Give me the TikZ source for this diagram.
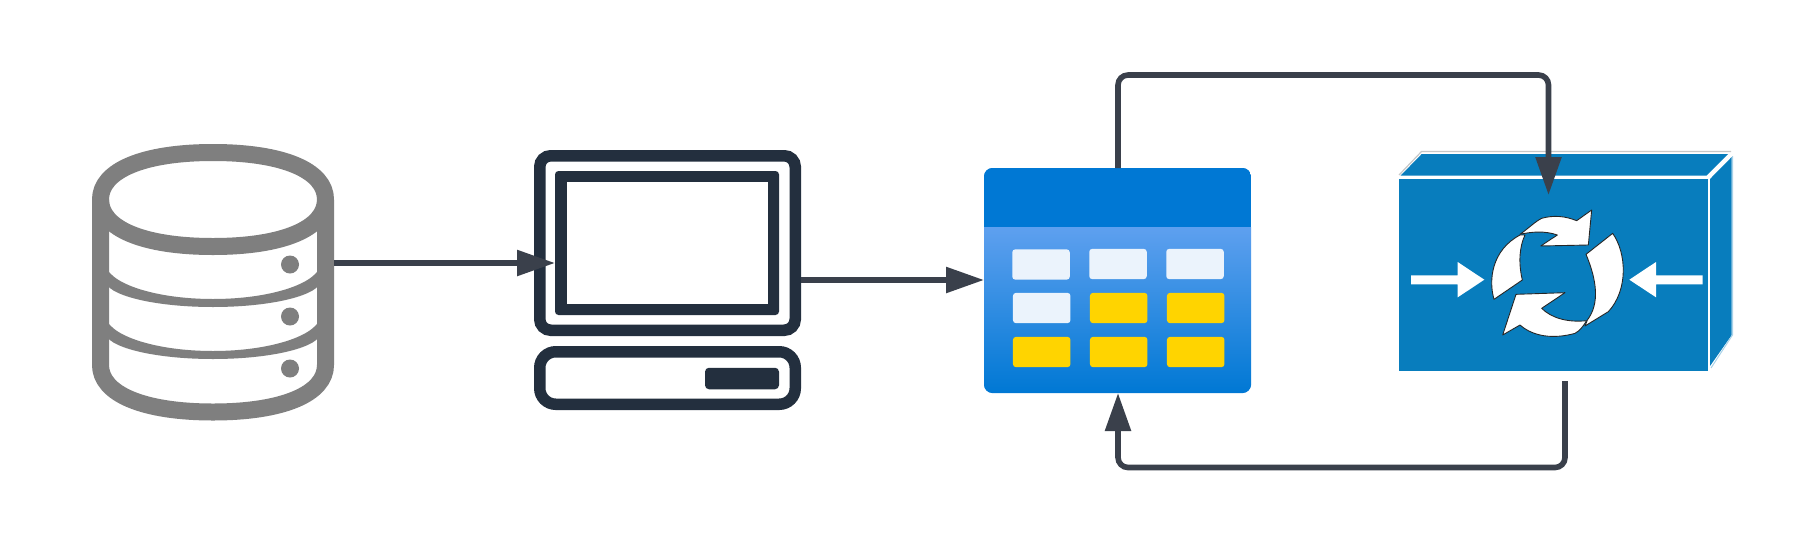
\documentclass[tikz,border=0pt]{standalone}
\usetikzlibrary{arrows.meta}
\definecolor{dbgrey}{HTML}{7F7F7F}
\definecolor{pcnavy}{HTML}{232F3E}
\definecolor{linkc}{HTML}{3A404B}
\definecolor{azdark}{HTML}{0078D4}
\definecolor{azlight}{HTML}{5EA0EF}
\definecolor{cellw}{HTML}{EBF3FC}
\definecolor{celly}{HTML}{FFD400}
\definecolor{cubeb}{HTML}{087DBD}
\tikzset{
  link/.style={draw=linkc,line width=5.6pt,rounded corners=10pt,-{Triangle[length=38pt,width=25pt,color=linkc]}},
  band/.style={fill=dbgrey},
  dbline/.style={draw=dbgrey,line width=17pt,line join=round},
  dot/.style={circle,fill=dbgrey,minimum size=18pt,inner sep=0pt},
  cell/.style={rectangle,rounded corners=3pt,minimum width=57.5pt,minimum height=30.3pt,inner sep=0pt},
  cellwhite/.style={cell,fill=cellw},
  cellyellow/.style={cell,fill=celly},
  cyc/.style={fill=white,draw=black!85,line width=0.9pt,line join=round},
  whitearrow/.style={fill=white},
  hull/.style={rectangle,inner sep=0pt,anchor=center}
}
\begin{document}
\begin{tikzpicture}[x=1pt,y=-1pt]
\useasboundingbox (0,0) rectangle (1809,544);
\fill[white] (0,0) rectangle (1809,544);

% database
\node[hull,minimum width=242pt,minimum height=276pt] (db) at (213,282) {};
\draw[dbline] (100.5,199.5) .. controls (100.5,170.5) and (143.25,152.5) .. (213,152.5)
   .. controls (282.75,152.5) and (325.5,170.5) .. (325.5,199.5)
   .. controls (325.5,228.5) and (282.75,246.5) .. (213,246.5)
   .. controls (143.25,246.5) and (100.5,228.5) .. (100.5,199.5) -- cycle;
\draw[dbline] (100.5,199.5) -- (100.5,365) .. controls (100.5,394) and (143.25,412) .. (213,412)
   .. controls (282.75,412) and (325.5,394) .. (325.5,365) -- (325.5,199.5);
\foreach \dy in {0,52}{
  \fill[band] (105,262+\dy) arc[start angle=180,end angle=360,x radius=108pt,y radius=37pt]
     -- (321,280+\dy) arc[start angle=360,end angle=180,x radius=108pt,y radius=27pt] -- cycle;
}
\node[dot] (dot1) at (290,264.5) {};
\node[dot] (dot2) at (290,316.5) {};
\node[dot] (dot3) at (290,368.5) {};

% computer
\node[hull,draw=pcnavy,line width=11.5pt,rounded corners=11pt,minimum width=255.5pt,minimum height=174.5pt] (pc) at (667.5,243) {};
\node[hull,fill=pcnavy,rounded corners=3.5pt,minimum width=224pt,minimum height=144pt] (screen) at (667,243) {};
\node[hull,fill=white,minimum width=201pt,minimum height=122pt] (glass) at (667.5,243) {};
\node[hull,draw=pcnavy,line width=11.5pt,rounded corners=16pt,minimum width=255.5pt,minimum height=52.5pt] (base) at (667.5,378) {};
\node[hull,fill=pcnavy,rounded corners=4pt,minimum width=74pt,minimum height=21.5pt] (btn) at (742,378.5) {};

% storage table
\node[hull,minimum width=267pt,minimum height=225pt] (table) at (1117.5,280.5) {};
\begin{scope}
  \clip[rounded corners=9pt] (table.north west) rectangle (table.south east);
  \shade[top color=azlight,bottom color=azdark] (984,227) rectangle (1251,393);
  \fill[azdark] (984,168) rectangle (1251,227);
\end{scope}
\node[cellwhite] (c11) at (1041,264.5) {};
\node[cellwhite] (c12) at (1118,264) {};
\node[cellwhite] (c13) at (1195,264) {};
\node[cellwhite] (c21) at (1041.7,308) {};
\node[cellyellow] (c22) at (1118.7,308) {};
\node[cellyellow] (c23) at (1195.7,308) {};
\node[cellyellow] (c31) at (1041.7,352) {};
\node[cellyellow] (c32) at (1118.7,352) {};
\node[cellyellow] (c33) at (1195.7,352) {};

% cube
\node[hull,fill=cubeb,minimum width=308.7pt,minimum height=191.7pt] (cube) at (1553.4,275.2) {};
\fill[cubeb] (1400.7,175.5) -- (1421.7,154) -- (1728,154) -- (1706.7,175.5) -- cycle;
\fill[cubeb] (1710,179) -- (1731.7,157) -- (1731.7,335) -- (1710,366) -- cycle;
\draw[black!22,line width=1.2pt] (1399,175) -- (1421.5,151.5) -- (1731,151.5);
\draw[cubeb!35,line width=1pt] (1732.5,156) -- (1732.5,335) -- (1711,368);

\fill[whitearrow] (1411,275.3) -- (1457.7,275.3) -- (1457.7,262) -- (1484.3,279.7) -- (1457.7,297.3) -- (1457.7,284.3) -- (1411,284.3) -- cycle;
\fill[whitearrow] (1702.7,275.3) -- (1656,275.3) -- (1656,262) -- (1629.3,279.7) -- (1656,297.3) -- (1656,284.3) -- (1702.7,284.3) -- cycle;

\begin{scope}[shift={(1480,200)},x=0.33333pt,y=-0.33333pt]
  \path[cyc] (135,105) .. controls (118,140) and (115,190) .. (127,240) -- (42,298)
     .. controls (25,240) and (35,150) .. (120,105) -- cycle;
  \path[cyc] (120,103) .. controls (145,85) and (165,65) .. (185,55)
     .. controls (220,45) and (255,48) .. (290,62) -- (335,30) -- (325,135) -- (182,138) -- (232,105)
     .. controls (195,92) and (155,95) .. (120,103) -- cycle;
  \path[cyc] (398,100) .. controls (440,160) and (445,270) .. (385,335)
     -- (315,378) -- (322,360) .. controls (360,310) and (350,240) .. (318,163) -- cycle;
  \path[cyc] (108,283) -- (255,278) -- (185,325)
     .. controls (215,355) and (265,368) .. (320,362)
     .. controls (310,378) and (300,392) .. (285,400)
     .. controls (220,418) and (160,410) .. (120,375) -- (68,405) -- cycle;
\end{scope}

% connection ports
\coordinate (dbout) at (334,263);
\coordinate (pcin) at (555,263);
\coordinate (pcout) at (801,280);
\coordinate (tablein) at (984,280);
\coordinate (tabletop) at (1118,168);
\coordinate (tablebot) at (1118,393);
\coordinate (cubetop) at (1548.5,195);
\coordinate (cubebot) at (1565,381);

\draw[link] (dbout) -- (pcin);
\draw[link] (pcout) -- (tablein);
\draw[link] (tabletop) -- (1118,75) -- (1548.5,75) -- (cubetop);
\draw[link] (cubebot) -- (1565,467.5) -- (1118,467.5) -- (tablebot);
\end{tikzpicture}
\end{document}
